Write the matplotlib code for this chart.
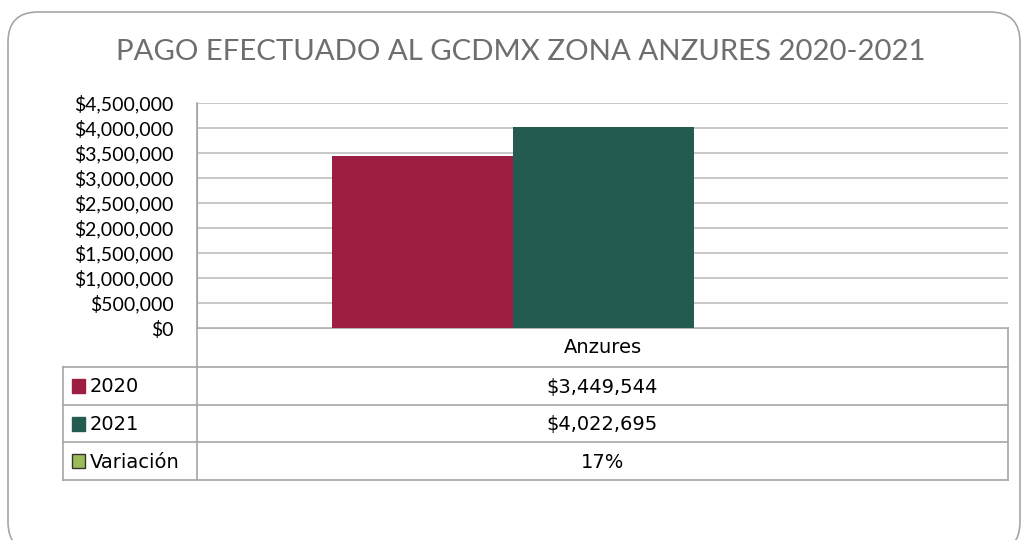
import numpy as np
import matplotlib
matplotlib.use("Agg")
import matplotlib.pyplot as plt
from matplotlib.patches import FancyBboxPatch, Rectangle
from matplotlib.ticker import FuncFormatter

# === Datos ===
categorias = ["Anzures"]
pago_2020 = [3449544]
pago_2021 = [4022695]
series = ["2020", "2021", "Variación"]
colores = ["#9C1F42", "#245B51", "#9BBB59"]
titulo = "PAGO EFECTUADO AL GCDMX ZONA ANZURES 2020-2021"

variacion = [f"{b / a - 1:.0%}" for a, b in zip(pago_2020, pago_2021)]

W, H = 1022, 540
fig = plt.figure(figsize=(W / 100, H / 100), dpi=100)
fig.patch.set_facecolor("white")

# capa de fondo en pixeles (marco y tabla)
bg = fig.add_axes([0, 0, 1, 1])
bg.set_xlim(0, W)
bg.set_ylim(H, 0)
bg.axis("off")
bg.add_patch(FancyBboxPatch((8, 12), 1012, 540, boxstyle="round,pad=0,rounding_size=30",
                            fc="white", ec="#A6A6A6", lw=1.2))

bg.text(521, 52, titulo, ha="center", va="center", fontsize=21.2, color="#6E6E6E",
        family=["Lato", "DejaVu Sans"])

# === Gráfica de barras ===
ax_l, ax_r, ax_t, ax_b = 197, 1008, 103, 328
ax = fig.add_axes([ax_l / W, 1 - ax_b / H, (ax_r - ax_l) / W, (ax_b - ax_t) / H])
x = np.arange(len(categorias))
w = 1.0
ax.bar(x - w / 2, pago_2020, width=w, color=colores[0], zorder=3)
ax.bar(x + w / 2, pago_2021, width=w, color=colores[1], zorder=3)
ax.set_xlim(-316 / 181, 495 / 181)
ax.set_ylim(0, 4500000)
ax.set_yticks(np.arange(0, 4500001, 500000))
ax.yaxis.set_major_formatter(FuncFormatter(lambda v, p: f"${v:,.0f}"))
ax.grid(axis="y", color="#BFBFBF", lw=1.2, zorder=0)
ax.set_xticks([])
ax.tick_params(axis="y", length=0, pad=17, labelsize=14)
for lab in ax.get_yticklabels():
    lab.set_family(["Lato", "DejaVu Sans"])
for s in ["top", "right", "bottom"]:
    ax.spines[s].set_visible(False)
ax.spines["left"].set_color("#A6A6A6")
ax.patch.set_alpha(0)

# === Tabla de datos ===
row_y = [328, 367, 405, 442, 480]
t_left, t_mid, t_right = 63, 197, 1008
line_kw = dict(color="#A6A6A6", lw=1.2)
bg.plot([t_mid, t_mid], [ax_t, row_y[-1]], **line_kw)
bg.plot([t_mid, t_right], [row_y[0], row_y[0]], **line_kw)
bg.plot([t_right, t_right], [row_y[0], row_y[-1]], **line_kw)
for yy in row_y[1:]:
    bg.plot([t_left, t_right], [yy, yy], **line_kw)
bg.plot([t_left, t_left], [row_y[1], row_y[-1]], **line_kw)

txt_kw = dict(fontsize=14, color="black", family=["DejaVu Sans"])
col_c = (t_mid + t_right) / 2
bg.text(col_c, (row_y[0] + row_y[1]) / 2, categorias[0], ha="center", va="center", **txt_kw)
celdas = [f"${pago_2020[0]:,}", f"${pago_2021[0]:,}", variacion[0]]
for i, (nombre, col, val) in enumerate(zip(series, colores, celdas)):
    yc = (row_y[i + 1] + row_y[i + 2]) / 2
    ec = "#333333" if i == 2 else col
    bg.add_patch(Rectangle((72, yc - 7), 13, 14, fc=col, ec=ec, lw=1))
    bg.text(90, yc + 1, nombre, ha="left", va="center", **txt_kw)
    bg.text(col_c, yc + 1, val, ha="center", va="center", **txt_kw)

fig.savefig("out.png", dpi=100)
